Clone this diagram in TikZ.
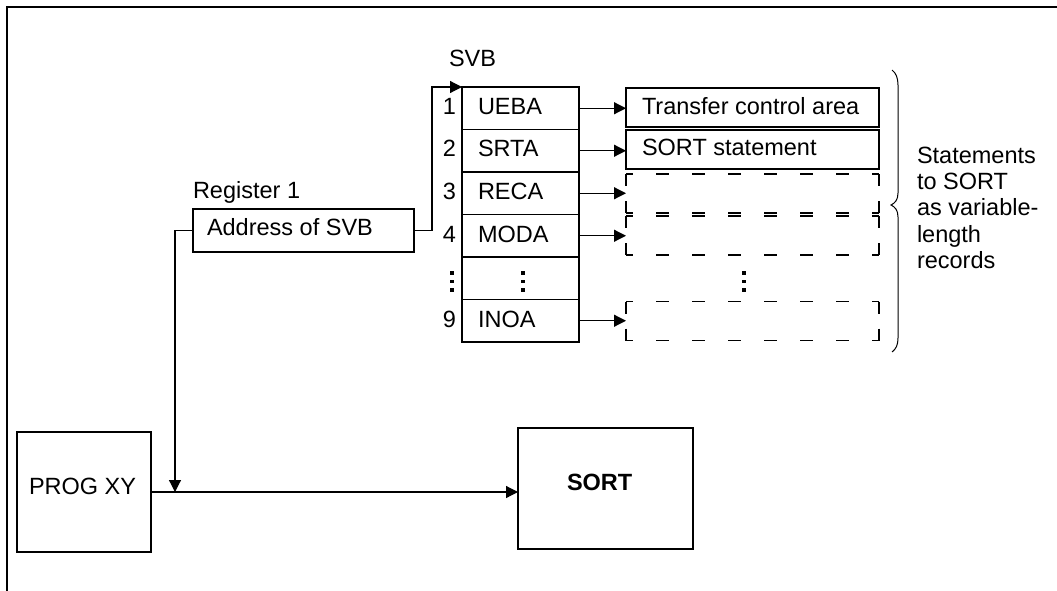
\documentclass[tikz,border=0pt]{standalone}
\usepackage{fontspec}
\setmainfont{Liberation Sans}
\usetikzlibrary{arrows.meta}
\begin{document}
\begin{tikzpicture}[x=1pt,y=-1pt,
  every node/.style={font=\fontsize{23.5}{26.3}\selectfont, inner sep=0pt, outer sep=0pt},
  box/.style={draw, line width=1.2pt, rectangle},
  slot/.style={rectangle},
  hdash/.style={line width=1.2pt, dash pattern=on 13pt off 23pt, dash phase=6pt},
  vdash/.style={line width=1.2pt, dash pattern=on 12pt off 15pt},
  arr/.style={line width=1.2pt, -{Triangle[length=12pt,width=12pt]}},
  ln/.style={line width=1.2pt},
  txt/.style={anchor=base west}]
\useasboundingbox (0,0) rectangle (1057,591);
% frame
\draw[ln] (7,591) -- (7,7) -- (1057,7);
% SVB table
\node[box, minimum width=117pt, minimum height=42.5pt] (r1) at (520.5,108.25) {};
\node[box, minimum width=117pt, minimum height=42.5pt] (r2) at (520.5,150.75) {};
\node[box, minimum width=117pt, minimum height=42.5pt] (r3) at (520.5,193.25) {};
\node[box, minimum width=117pt, minimum height=42.5pt] (r4) at (520.5,235.75) {};
\node[box, minimum width=117pt, minimum height=42.5pt] (r5) at (520.5,278.25) {};
\node[box, minimum width=117pt, minimum height=42.5pt] (r6) at (520.5,320.75) {};
\node[txt] (svb) at (449,67) {SVB};
\node[anchor=base east] (n1) at (456,114) {1};
\node[anchor=base east] (n2) at (456,157) {2};
\node[anchor=base east] (n3) at (456,199) {3};
\node[anchor=base east] (n4) at (456,242) {4};
\node[anchor=base east] (n9) at (456,327) {9};
\node[txt] (l1) at (478,114) {UEBA};
\node[txt] (l2) at (478,157) {SRTA};
\node[txt] (l3) at (478,199) {RECA};
\node[txt] (l4) at (478,242) {MODA};
\node[txt] (l9) at (478,327) {INOA};
% dots
\foreach \x in {452,523,744} {
  \foreach \y in {273,281.5,290} {
    \fill (\x-1.8,\y-1.8) rectangle (\x+1.8,\y+1.8);
  }
}
% target boxes
\node[box, minimum width=253pt, minimum height=39pt] (t1) at (752.5,107.5) {};
\node[box, minimum width=253pt, minimum height=39pt] (t2) at (752.5,149.5) {};
\node[slot, minimum width=253pt, minimum height=39pt] (t3) at (752.5,193.5) {};
\node[slot, minimum width=253pt, minimum height=39pt] (t4) at (752.5,235.5) {};
\node[slot, minimum width=253pt, minimum height=39pt] (t5) at (752.5,321) {};
\foreach \t in {t3,t4,t5} {
  \draw[hdash] (\t.north west) -- (\t.north east);
  \draw[hdash] (\t.south west) -- (\t.south east);
  \draw[vdash] (\t.north west) -- (\t.south west);
  \draw[vdash] (\t.north east) -- (\t.south east);
}
\node[txt] (tx1) at (642,114) {Transfer control area};
\node[txt] (tx2) at (642,155) {SORT statement};
% arrows rows -> targets
\draw[arr] (r1.east) -- (r1.east -| t1.west);
\draw[arr] (r2.east) -- (r2.east -| t2.west);
\draw[arr] (r3.east) -- (r3.east -| t3.west);
\draw[arr] (r4.east) -- (r4.east -| t4.west);
\draw[arr] (r6.east) -- (r6.east -| t5.west);
% register
\node[txt] (regl) at (193,198) {Register 1};
\node[box, minimum width=221pt, minimum height=43pt] (reg) at (303.5,230.5) {};
\node[txt] (regt) at (207,235) {Address of SVB};
\coordinate (b1) at (432,230.5);
\draw[arr] (reg.east) -- (b1) |- (r1.north west);
% brace
\draw[line width=1pt] (892,70) .. controls (896,73) and (898,78) .. (898,85) -- (898,193)
  .. controls (898,200) and (895,203) .. (891,205)
  .. controls (895,207) and (898,210) .. (898,217) -- (898,338)
  .. controls (898,345) and (896,349) .. (892,352);
\node[txt] at (917,163) {Statements};
\node[txt] at (917,189) {to SORT};
\node[txt] at (917,215) {as variable-};
\node[txt] at (917,242) {length};
\node[txt] at (917,268) {records};
% PROG XY and SORT
\node[box, minimum width=134pt, minimum height=120pt] (prog) at (84,492) {};
\node[txt] at (29,494) {PROG XY};
\node[box, minimum width=175pt, minimum height=121pt] (sort) at (605.5,488.5) {};
\node[txt, font=\fontsize{23.5}{26.3}\selectfont\bfseries] at (567,490) {SORT};
\draw[arr] (prog.east |- 0,492) -- (sort.west |- 0,492);
\coordinate (j) at (175,492);
\draw[arr] (reg.west) -| (j);
\end{tikzpicture}
\end{document}
